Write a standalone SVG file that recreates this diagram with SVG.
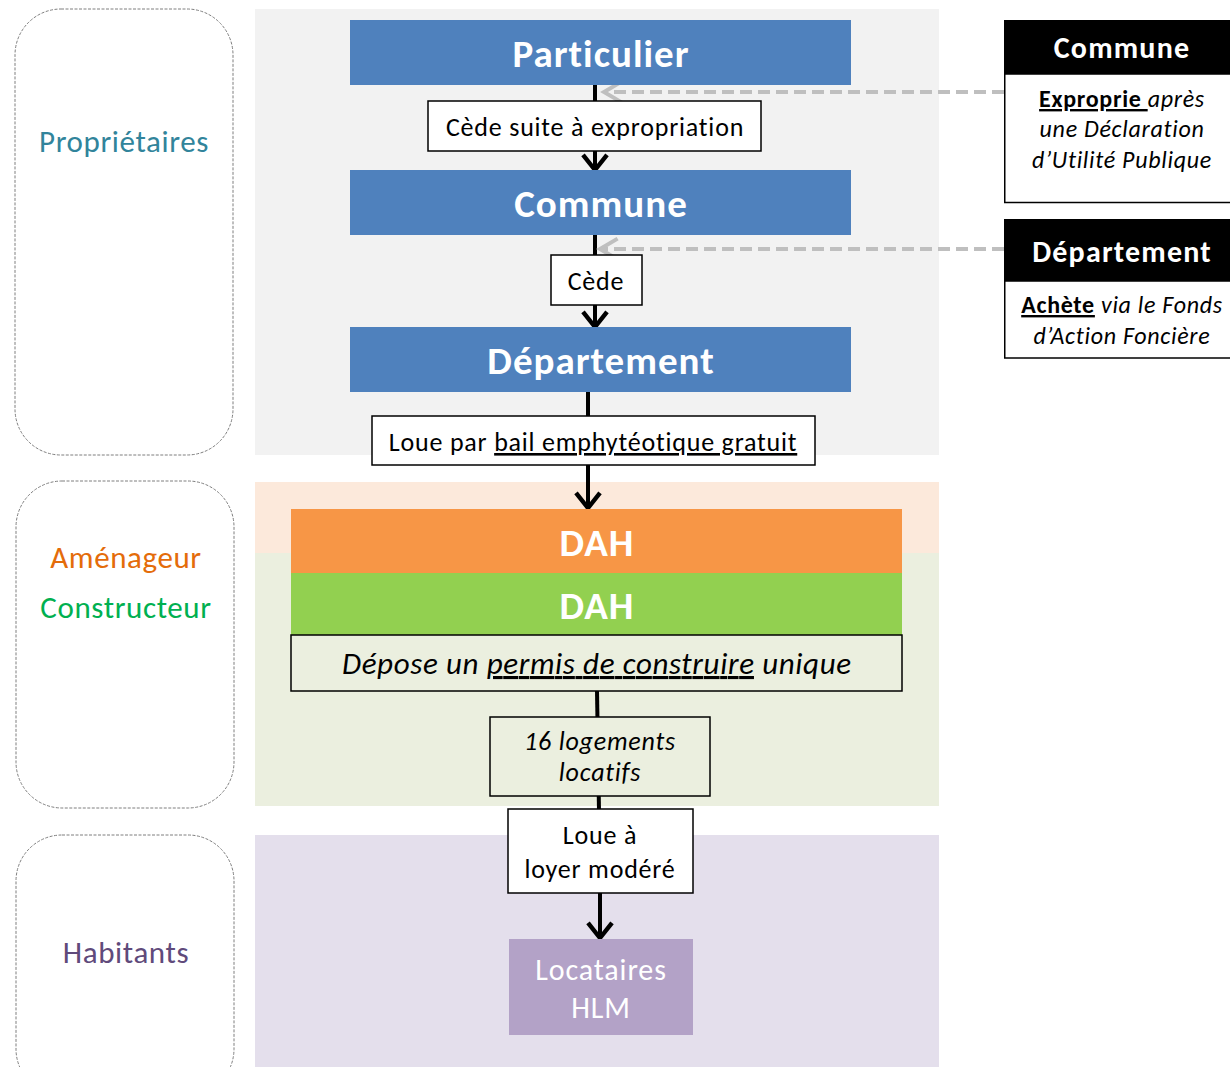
<svg xmlns="http://www.w3.org/2000/svg" width="1230" height="1067" viewBox="0 0 1230 1067">
<style>
text{font-family:Carlito,Lato,"Open Sans","Liberation Sans",sans-serif}
.lane{fill:#fff;stroke:#7f7f7f;stroke-width:1;stroke-dasharray:3 1.5}
.lt{font-size:31px;letter-spacing:0.6px;text-anchor:middle}
.blue{fill:#4f81bd}
.bt{fill:#fff;font-weight:bold;font-size:39px;letter-spacing:1px;text-anchor:middle}
.lbl{fill:#fff;stroke:#000;stroke-width:1.5}
.lx{font-size:26px;letter-spacing:0.8px;text-anchor:middle;fill:#000}
.it{font-style:italic}
.ul{text-decoration:underline}
.conn{stroke:#000;stroke-width:4;fill:none}
.dash{stroke:#bfbfbf;stroke-width:4;fill:none;stroke-dasharray:12 6}
.hd{fill:#000}
.ht{fill:#fff;font-weight:bold;font-size:30px;letter-spacing:1.2px;text-anchor:middle}
.bd{font-size:24px;letter-spacing:0.7px;text-anchor:middle;fill:#000;font-style:italic}
</style>
<defs>
<marker id="ah" markerWidth="8" markerHeight="8" refX="5" refY="4" orient="auto" markerUnits="strokeWidth" viewBox="0 0 8 8">
<polyline points="1.2,1 5,4 1.2,7" fill="none" stroke="#000" stroke-width="1.1"/>
</marker>
<marker id="ag" markerWidth="8" markerHeight="8" refX="5" refY="4" orient="auto" markerUnits="strokeWidth" viewBox="0 0 8 8">
<polyline points="0.6,1.4 5,4 0.6,6.6" fill="none" stroke="#bfbfbf" stroke-width="1"/>
</marker>
</defs>
<rect width="1230" height="1067" fill="#fff"/>
<g id="bands">
<rect x="255" y="9" width="684" height="446" fill="#f2f2f2"/>
<rect x="255" y="482" width="684" height="71" fill="#fce9db"/>
<rect x="255" y="553" width="684" height="253" fill="#ebefdf"/>
<rect x="255" y="835" width="684" height="232" fill="#e4dfec"/>
</g>
<g id="lane-proprietaires">
<rect class="lane" x="15" y="9" width="218" height="446" rx="46"/>
<text class="lt" x="124" y="152" fill="#31849b">Propriétaires</text>
</g>
<g id="lane-amenageur">
<rect class="lane" x="16" y="481" width="218" height="327" rx="46"/>
<text class="lt" x="126" y="568" fill="#e46c0a">Aménageur</text>
<text class="lt" x="126" y="618" fill="#00b050">Constructeur</text>
</g>
<g id="lane-habitants">
<rect class="lane" x="16" y="835" width="218" height="260" rx="46"/>
<text class="lt" x="126" y="963" fill="#604a7b">Habitants</text>
</g>
<g id="connectors">
<line class="conn" x1="595" y1="85" x2="595" y2="170" marker-end="url(#ah)"/>
<line class="conn" x1="595" y1="235" x2="595" y2="327" marker-end="url(#ah)"/>
<line class="conn" x1="588" y1="392" x2="588" y2="508" marker-end="url(#ah)"/>
<line class="conn" x1="597" y1="691" x2="599" y2="810"/>
<line class="conn" x1="600" y1="893" x2="600" y2="938" marker-end="url(#ah)"/>
<line class="dash" x1="1004" y1="92" x2="604" y2="92" marker-end="url(#ag)"/>
<line class="dash" x1="1004" y1="249" x2="600" y2="249" marker-end="url(#ag)"/>
</g>
<g id="particulier">
<rect class="blue" x="350" y="20" width="501" height="65"/>
<text class="bt" x="601" y="67">Particulier</text>
</g>
<g id="lbl-cede-expro">
<rect class="lbl" x="428" y="101" width="333" height="50"/>
<text class="lx" x="595" y="136">Cède suite à expropriation</text>
</g>
<g id="commune">
<rect class="blue" x="350" y="170" width="501" height="65"/>
<text class="bt" x="601" y="217">Commune</text>
</g>
<g id="lbl-cede">
<rect class="lbl" x="551" y="255" width="91" height="50"/>
<text class="lx" x="596" y="290">Cède</text>
</g>
<g id="departement">
<rect class="blue" x="350" y="327" width="501" height="65"/>
<text class="bt" x="601" y="374">Département</text>
</g>
<g id="lbl-loue-bail">
<rect class="lbl" x="372" y="416" width="443" height="49"/>
<text class="lx" x="593" y="451">Loue par <tspan class="ul">bail emphytéotique gratuit</tspan></text>
</g>
<g id="dah-orange">
<rect x="291" y="509" width="611" height="64" fill="#f79646"/>
<text class="bt" x="597" y="556">DAH</text>
</g>
<g id="dah-green">
<rect x="291" y="573" width="611" height="62" fill="#92d050"/>
<text class="bt" x="597" y="619">DAH</text>
</g>
<g id="lbl-permis">
<rect x="291" y="635" width="611" height="56" fill="#ebefdf" stroke="#000" stroke-width="1.5"/>
<text x="342" y="674" font-size="31" font-style="italic" fill="#000" textLength="509" lengthAdjust="spacing">Dépose un <tspan class="ul">permis de construire</tspan> unique</text>
</g>
<g id="lbl-logements">
<rect x="490" y="717" width="220" height="79" fill="#ebefdf" stroke="#000" stroke-width="1.5"/>
<text class="lx it" x="600" y="750" font-size="24" letter-spacing="0.3">16 logements</text>
<text class="lx it" x="600" y="781" font-size="24" letter-spacing="0.3">locatifs</text>
</g>
<g id="lbl-loyer">
<rect class="lbl" x="508" y="809" width="185" height="84"/>
<text class="lx" x="600" y="844">Loue à</text>
<text class="lx" x="600" y="878">loyer modéré</text>
</g>
<g id="locataires">
<rect x="509" y="939" width="184" height="96" fill="#b3a2c7"/>
<text x="601" y="980" font-size="30" letter-spacing="0.9" fill="#fff" text-anchor="middle">Locataires</text>
<text x="601" y="1018" font-size="30" letter-spacing="0.9" fill="#fff" text-anchor="middle">HLM</text>
</g>
<g id="note-commune">
<rect class="hd" x="1004" y="20" width="226" height="54"/>
<text class="ht" x="1122" y="58">Commune</text>
<rect x="1004.75" y="74" width="230" height="128.5" fill="#fff" stroke="#000" stroke-width="1.5"/>
<text class="bd" x="1122" y="107"><tspan font-style="normal" font-weight="bold" text-decoration="underline">Exproprie </tspan>après</text>
<text class="bd" x="1122" y="137">une Déclaration</text>
<text class="bd" x="1122" y="168">d’Utilité Publique</text>
</g>
<g id="note-departement">
<rect class="hd" x="1004" y="219" width="226" height="62"/>
<text class="ht" x="1122" y="262">Département</text>
<rect x="1004.75" y="281" width="230" height="77" fill="#fff" stroke="#000" stroke-width="1.5"/>
<text class="bd" x="1122" y="313"><tspan font-style="normal" font-weight="bold" text-decoration="underline">Achète</tspan> via le Fonds</text>
<text class="bd" x="1122" y="344">d’Action Foncière</text>
</g>
</svg>
